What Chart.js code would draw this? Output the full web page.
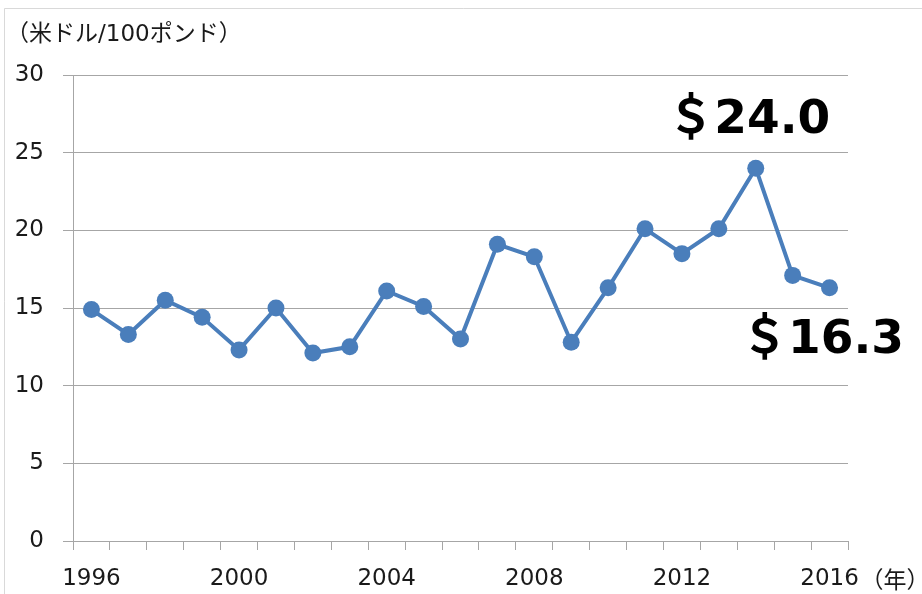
<!DOCTYPE html>
<html>
<head>
<meta charset="utf-8">
<script src="https://cdn.jsdelivr.net/npm/chart.js@4/dist/chart.umd.min.js"></script>
<style>
html,body{margin:0;padding:0;background:#fff;}
#wrap{width:922px;height:594px;position:relative;}
</style>
</head>
<body>
<div id="wrap"><canvas id="c" width="922" height="594"></canvas></div>
<script>
const years = ['1996','1997','1998','1999','2000','2001','2002','2003','2004','2005','2006','2007','2008','2009','2010','2011','2012','2013','2014','2015','2016'];
const prices = [14.9,13.3,15.5,14.4,12.3,15.0,12.1,12.5,16.1,15.1,13.0,19.1,18.3,12.8,16.3,20.1,18.5,20.1,24.0,17.1,16.3];
const shownYears = ['1996','2000','2004','2008','2012','2016'];
const unitLabel = '（米ドル/100ポンド）';
const yearUnit = '（年）';
const callouts = [
  {year:'2014', text:'＄24.0'},
  {year:'2016', text:'＄16.3'}
];

const BLUE = '#4a7ebb';
const GRID = '#a6a6a6';
const TICKFONT = '"DejaVu Sans"';

const decor = {
  id:'decor',
  beforeDraw(chart){
    const ctx = chart.ctx;
    ctx.save();
    ctx.fillStyle = '#fff';
    ctx.fillRect(0,0,chart.width,chart.height);
    ctx.strokeStyle = '#d9d9d9';
    ctx.lineWidth = 1;
    ctx.beginPath();
    ctx.moveTo(4.5, chart.height);
    ctx.lineTo(4.5, 8.5);
    ctx.lineTo(chart.width, 8.5);
    ctx.stroke();
    ctx.restore();
  },
  afterDraw(chart){
    const ctx = chart.ctx;
    const xs = chart.scales.x, ys = chart.scales.y;
    ctx.save();
    ctx.fillStyle = '#1a1a1a';
    ctx.font = '23px "DejaVu Sans", "Noto Sans CJK JP"';
    ctx.textAlign = 'left';
    ctx.textBaseline = 'alphabetic';
    ctx.fillText(unitLabel, 6, 41);
    const lastX = xs.getPixelForValue(years.length-1);
    ctx.font = '23px "Noto Sans CJK JP"';
    ctx.fillText(yearUnit, lastX + 31, 588);
    ctx.fillStyle = '#000';
    ctx.font = 'bold 47px "DejaVu Sans", "Noto Sans CJK JP"';
    ctx.textAlign = 'center';
    callouts.forEach((c,i)=>{
      const idx = years.indexOf(c.year);
      const px = xs.getPixelForValue(idx);
      const py = ys.getPixelForValue(prices[idx]);
      if (i===0) ctx.fillText(c.text, px - 7, py - 35);
      else ctx.fillText(c.text, px - 7, py + 65);
    });
    ctx.restore();
  }
};

new Chart(document.getElementById('c'), {
  type:'line',
  data:{
    labels: years,
    datasets:[{
      data: prices,
      borderColor: BLUE,
      backgroundColor: BLUE,
      borderWidth: 4,
      pointRadius: 8.5,
      pointHoverRadius: 8.5,
      pointBorderWidth: 0,
      pointBackgroundColor: BLUE,
      tension: 0,
      fill: false
    }]
  },
  options:{
    responsive:false,
    animation:false,
    events:[],
    layout:{padding:{left:0, top:75, right:74, bottom:0}},
    plugins:{legend:{display:false}, tooltip:{enabled:false}},
    scales:{
      x:{
        type:'category',
        offset:true,
        grid:{display:true, offset:true, drawOnChartArea:false, drawTicks:true, tickLength:9, color:GRID, lineWidth:1},
        border:{display:true, color:GRID, width:1},
        ticks:{
          autoSkip:false, maxRotation:0, minRotation:0, padding:15,
          color:'#1a1a1a',
          font:{family:TICKFONT, size:23},
          callback:function(v, i){ const l = years[i]; return shownYears.includes(l) ? l : ''; }
        },
        afterFit(s){ s.height = 53; }
      },
      y:{
        min:0, max:30,
        grid:{color:GRID, lineWidth:1, tickLength:10, drawTicks:true},
        border:{display:true, color:GRID, width:1},
        ticks:{stepSize:5, padding:19, color:'#1a1a1a', font:{family:TICKFONT, size:23}},
        afterFit(s){ s.width = 73; }
      }
    }
  },
  plugins:[decor]
});
</script>
</body>
</html>
